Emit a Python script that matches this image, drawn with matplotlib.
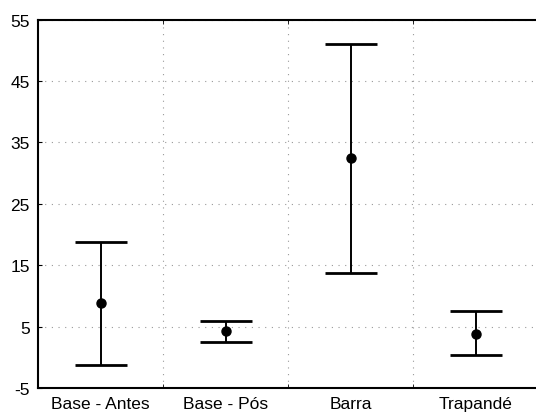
import numpy as np
import matplotlib
matplotlib.use("Agg")
import matplotlib.pyplot as plt

# values
groups = ["Base - Antes", "Base - Pós", "Barra", "Trapandé"]
means = [8.9, 4.3, 32.4, 3.8]
upper = [18.7, 5.9, 51.0, 7.5]
lower = [-1.2, 2.5, 13.7, 0.3]
yticks = [-5, 5, 15, 25, 35, 45, 55]

plt.rcParams['font.family'] = ['Liberation Sans', 'DejaVu Sans']

fig = plt.figure(figsize=(5.36, 4.14), dpi=100)
ax = fig.add_axes([0.071, 0.0604, 0.933, 0.8900])

x = np.arange(len(groups))
m = np.array(means)
err = [m - np.array(lower), np.array(upper) - m]
ax.errorbar(x, m, yerr=err, fmt='o', color='black', ms=6.5,
            elinewidth=1.4, capsize=18.5, capthick=2.0)

ax.set_xlim(-0.5, len(groups) - 0.5)
ax.set_ylim(-5, 55)
ax.set_yticks(yticks)
ax.set_yticklabels([str(v) for v in yticks], fontsize=12.5)
ax.set_xticks(x)
ax.set_xticklabels(groups, fontsize=12.5)
ax.set_xticks(x[:-1] + 0.5, minor=True)

ax.tick_params(axis='x', which='major', length=0, pad=6)
ax.tick_params(axis='x', which='minor', length=3, direction='in', top=True, bottom=True)
ax.tick_params(axis='y', length=3, direction='in', pad=6)

ax.grid(True, axis='y', which='major', linestyle=(0, (1, 5)), color='#999999', linewidth=0.8)
ax.grid(True, axis='x', which='minor', linestyle=(0, (1, 5)), color='#999999', linewidth=0.8)

for side in ['left', 'bottom', 'top']:
    ax.spines[side].set_linewidth(1.5)
ax.spines['right'].set_visible(False)

fig.savefig("out.png", dpi=100)
